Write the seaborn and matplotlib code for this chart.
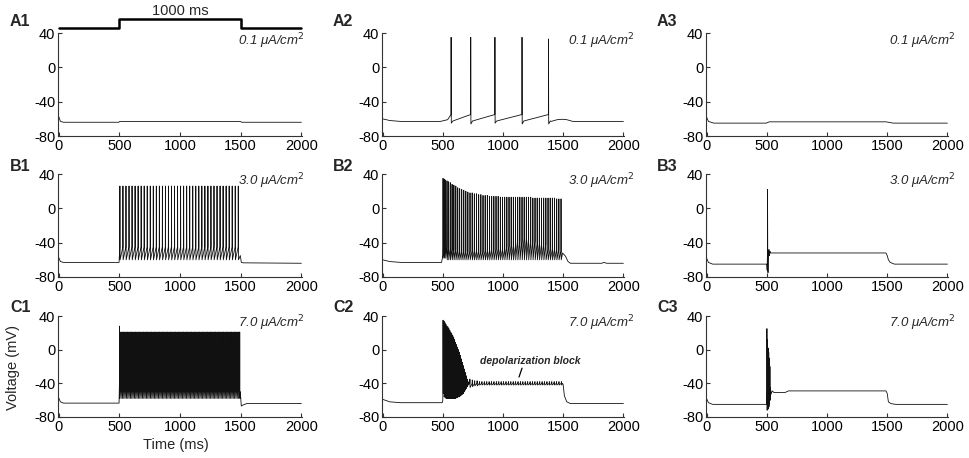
import numpy as np
import pandas as pd
import matplotlib
matplotlib.use("Agg")
import matplotlib.pyplot as plt
import seaborn as sns

# values: time in ms, voltage in mV

# A1 / A3 / B3 / C3 - plain traces (vertex lists)
a1_t = [0, 15, 40, 495, 505, 1495, 1510, 2000]
a1_v = [-57, -63, -64, -64, -63, -63, -64, -64]

a3_t = [0, 15, 60, 495, 520, 1490, 1550, 2000]
a3_v = [-58, -63, -65, -65, -63.5, -63.5, -65, -65]

b3_t = [0, 15, 50, 500, 503, 505, 506, 508, 510, 514, 518, 522, 526, 530,
        1490, 1500, 1510, 1525, 1560, 2000]
b3_v = [-58, -63, -65, -65, -72, -55, 22, -60, -75, -52, -48, -55, -50, -52,
        -52, -55, -60, -63, -65, -65]

c3_t = [0, 15, 50, 498, 500, 501, 503, 505, 506, 508, 510, 511, 513, 515,
        516, 518, 520, 521, 523, 525, 526, 528, 530, 535, 545, 560, 650, 680,
        1490, 1500, 1510, 1530, 1570, 2000]
c3_v = [-58, -63, -65, -65, -60, 25, -72, -50, 12, -71, -48, 2, -70, -50,
        -3, -68, -50, -10, -65, -48, -20, -60, -45, -53, -49, -51, -51, -49,
        -49, -52, -62, -64, -65, -65]

# A2 - 0.1 uA/cm2, five spikes
a2_head_t = [0, 60, 150, 480, 540]
a2_head_v = [-60, -62, -63, -63, -61]
a2_spk = [569, 732, 933, 1158, 1378]
a2_pre = [-55, -55, -55, -55, -55]
a2_peak = [35, 35, 35, 35, 33]
a2_trough = [-65, -66, -65, -66, -66]
a2_rec = -62.5
a2_tail_t = [1400, 1450, 1490, 1530, 1580, 2000]
a2_tail_v = [-63, -61, -60.5, -61, -63, -63]

# B1 - 3.0 uA/cm2, regular firing
b1_head_t = [0, 15, 40, 498]
b1_head_v = [-57, -62, -63, -63]
b1_spk = [505, 530, 555, 580, 605, 630, 655, 680, 705, 730, 755, 780, 805,
          830, 855, 880, 905, 930, 955, 980, 1005, 1030, 1055, 1080, 1105,
          1130, 1155, 1180, 1205, 1230, 1255, 1280, 1305, 1330, 1355, 1380,
          1405, 1430, 1455, 1480]
b1_pre = -45
b1_peak = 26
b1_trough = -60
b1_tail_t = [1497, 1505, 1520, 2000]
b1_tail_v = [-55, -63, -63.5, -64]

# B2 - 3.0 uA/cm2, adapting train
b2_head_t = [0, 60, 150, 490, 500]
b2_head_v = [-60, -62, -63, -63, -55]
b2_spk = [502, 512, 523, 535, 548, 562, 577, 592, 608, 624, 640, 657, 674,
          691, 708, 726, 744, 762, 780, 798, 816, 834, 852, 870, 888, 906,
          924, 942, 960, 978, 996, 1014, 1032, 1050, 1068, 1086, 1104, 1122,
          1140, 1158, 1176, 1194, 1212, 1230, 1248, 1266, 1284, 1302, 1320,
          1338, 1356, 1374, 1392, 1410, 1428, 1446, 1464, 1482]
b2_pre = [-45, -45, -45, -45, -45, -48, -48, -48, -48, -48,
          -50, -50, -50, -50, -50, -50, -50, -50, -50, -50,
          -50, -50, -50, -50, -50, -48, -48, -48, -48, -48,
          -48, -48, -44, -44, -44, -44, -44, -38, -38, -38,
          -36, -36, -36, -38, -38, -38, -42, -42, -42, -42,
          -42, -48, -48, -48, -48, -48, -48, -50]
b2_peak = [35, 34, 33, 32, 31, 30, 28, 27, 26, 24,
           23, 22, 21, 20, 19, 18, 18, 17, 17, 16,
           16, 15, 15, 15, 14, 14, 14, 14, 14, 13,
           13, 13, 13, 13, 13, 13, 13, 13, 13, 13,
           13, 13, 13, 13, 12, 12, 12, 12, 12, 12,
           12, 12, 12, 12, 12, 11, 11, 11]
b2_trough = [-58, -58, -58] + [-60] * 55
b2_tail_t = [1495, 1520, 1540, 1560, 1820, 1840, 1860, 2000]
b2_tail_v = [-52, -56, -62, -64, -64, -63, -64, -64]

# C1 - 7.0 uA/cm2, fast firing
c1_head_t = [0, 15, 40, 498]
c1_head_v = [-57, -62, -63.5, -63.5]
c1_spk = [502, 513, 524, 535, 546, 557, 568, 579, 590, 601, 612, 623, 634,
          645, 656, 667, 678, 689, 700, 711, 722, 733, 744, 755, 766, 777,
          788, 799, 810, 821, 832, 843, 854, 865, 876, 887, 898, 909, 920,
          931, 942, 953, 964, 975, 986, 997, 1008, 1019, 1030, 1041, 1052,
          1063, 1074, 1085, 1096, 1107, 1118, 1129, 1140, 1151, 1162, 1173,
          1184, 1195, 1206, 1217, 1228, 1239, 1250, 1261, 1272, 1283, 1294,
          1305, 1316, 1327, 1338, 1349, 1360, 1371, 1382, 1393, 1404, 1415,
          1426, 1437, 1448, 1459, 1470, 1481, 1492]
c1_pre = -40
c1_peak = [28] + [21] * 90
c1_trough = -58
c1_tail_t = [1497, 1505, 1515, 1550, 2000]
c1_tail_v = [-50, -67, -66, -64, -64]

# C2 - 7.0 uA/cm2, decaying spikes then depolarization block
c2_head_t = [0, 60, 150, 495, 500]
c2_head_v = [-59, -62, -63, -63, -60]
c2_spk = [502, 510, 518, 526, 534, 542, 550, 558, 566, 574, 582, 590, 598,
          606, 614, 622, 630, 638, 646, 654, 662, 670, 678, 686, 694, 702, 710]
c2_pre = [-50] * 22 + [-48, -46, -44, -42, -41]
c2_peak = [35, 34, 32, 30, 28, 27, 25, 23, 21, 19, 17, 15, 12, 9, 6, 3, 0,
           -3, -7, -11, -15, -19, -23, -27, -31, -35, -38]
c2_trough = [-52, -56, -57, -58, -58, -58, -58, -58, -58, -58, -58, -58,
             -58, -58, -57, -57, -56, -56, -55, -54, -53, -52, -50, -48,
             -46, -44, -42]
c2_osc = [725, 745, 765, 785, 805, 825, 845, 865, 885, 905, 925, 945, 965,
          985, 1005, 1025, 1045, 1065, 1085, 1105, 1125, 1145, 1165, 1185,
          1205, 1225, 1245, 1265, 1285, 1305, 1325, 1345, 1365, 1385, 1405,
          1425, 1445, 1465, 1485]
c2_osc_pre = -40
c2_osc_peak = [-35, -36, -37, -37] + [-38] * 35
c2_osc_trough = [-45, -44, -43, -43] + [-42] * 35
c2_tail_t = [1495, 1500, 1510, 1530, 1560, 2000]
c2_tail_v = [-40, -42, -55, -62, -64, -64]

currents = ["0.1", "3.0", "7.0"]
panel_names = [["A1", "A2", "A3"], ["B1", "B2", "B3"], ["C1", "C2", "C3"]]


def trace(head_t, head_v, groups=(), tail_t=(), tail_v=(), rec=None):
    t, v = list(head_t), list(head_v)
    for spk, pre, peak, trough in groups:
        n = len(spk)
        pre = np.broadcast_to(pre, n)
        peak = np.broadcast_to(peak, n)
        trough = np.broadcast_to(trough, n)
        for s, a, b, c in zip(spk, pre, peak, trough):
            t += [s - 1.0, s, s + 1.5]
            v += [a, b, c]
            if rec is not None:
                t.append(s + 15)
                v.append(rec)
    t += list(tail_t)
    v += list(tail_v)
    return pd.DataFrame({"time": t, "voltage": v})


traces = [
    [trace(a1_t, a1_v),
     trace(a2_head_t, a2_head_v, [(a2_spk, a2_pre, a2_peak, a2_trough)],
           a2_tail_t, a2_tail_v, rec=a2_rec),
     trace(a3_t, a3_v)],
    [trace(b1_head_t, b1_head_v, [(b1_spk, b1_pre, b1_peak, b1_trough)],
           b1_tail_t, b1_tail_v),
     trace(b2_head_t, b2_head_v, [(b2_spk, b2_pre, b2_peak, b2_trough)],
           b2_tail_t, b2_tail_v),
     trace(b3_t, b3_v)],
    [trace(c1_head_t, c1_head_v, [(c1_spk, c1_pre, c1_peak, c1_trough)],
           c1_tail_t, c1_tail_v),
     trace(c2_head_t, c2_head_v,
           [(c2_spk, c2_pre, c2_peak, c2_trough),
            (c2_osc, c2_osc_pre, c2_osc_peak, c2_osc_trough)],
           c2_tail_t, c2_tail_v),
     trace(c3_t, c3_v)],
]

stim_t = [0, 500, 500, 1500, 1500, 2000]
stim_v = [46, 46, 56, 56, 46, 46]

sns.set_style("ticks")
plt.rcParams["font.family"] = ["Liberation Sans", "DejaVu Sans"]
plt.rcParams["axes.unicode_minus"] = False

W, H = 969, 458
fig = plt.figure(figsize=(W / 100, H / 100), dpi=100)

cols = [(58, 302), (382, 624), (706, 948)]
rows = [(33, 136), (174, 277), (316, 417)]
label_x = [10, 333, 657]
label_y = [21, 166, 308]
cur_x = [305, 635, 956]
cur_y = [41, 181, 323]

for r in range(3):
    for c in range(3):
        x0, x1 = cols[c]
        y0, y1 = rows[r]
        ax = fig.add_axes([x0 / W, 1 - y1 / H, (x1 - x0) / W, (y1 - y0) / H])
        sns.lineplot(data=traces[r][c], x="time", y="voltage", sort=False,
                     estimator=None, color="#111111", lw=0.6, ax=ax)
        ax.set_xlim(-5, 2005)
        ax.set_ylim(-80, 40)
        ax.set_xticks([0, 500, 1000, 1500, 2000])
        ax.set_yticks([-80, -40, 0, 40])
        ax.set_xlabel("")
        ax.set_ylabel("")
        sns.despine(ax=ax)
        for s in ("left", "bottom"):
            ax.spines[s].set_linewidth(0.8)
            ax.spines[s].set_color("#333333")
        ax.tick_params(direction="in", length=3, width=0.8, labelsize=10.5,
                       pad=2, colors="#333333", labelcolor="black")
        fig.text(label_x[c] / W, 1 - label_y[r] / H, panel_names[r][c],
                 fontsize=11.5, fontweight="bold", ha="left", va="center")
        fig.text(cur_x[c] / W, 1 - cur_y[r] / H,
                 currents[r] + " \u03bcA/cm$^2$", fontsize=9.5,
                 style="italic", ha="right", va="center")

        if r == 0 and c == 0:
            sns.lineplot(x=stim_t, y=stim_v, sort=False, estimator=None,
                         color="black", lw=1.8, clip_on=False, ax=ax)
            ax.set_ylim(-80, 40)
            ax.text(1000, 58, "1000 ms", fontsize=10.5, ha="center",
                    va="bottom", clip_on=False)
        if r == 2 and c == 1:
            ax.plot([1158, 1133], [-22, -32.5], color="black", lw=0.9)
            ax.text(1224, -13.5, "depolarization block", fontsize=7.5,
                    fontweight="bold", style="italic", ha="center",
                    va="center")

fig.text(13 / W, 1 - 367 / H, "Voltage (mV)", rotation=90, fontsize=10.5,
         ha="center", va="center")
fig.text(176 / W, 1 - 445 / H, "Time (ms)", fontsize=10.5, ha="center",
         va="center")

fig.savefig("out.png", dpi=100)
